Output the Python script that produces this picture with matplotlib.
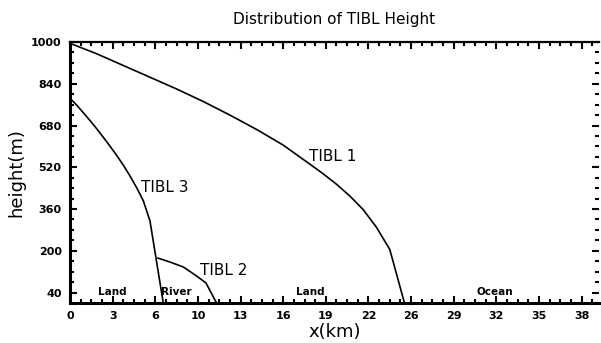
import numpy as np
import matplotlib
matplotlib.use("Agg")
import matplotlib.pyplot as plt
from matplotlib.ticker import MultipleLocator, FixedLocator

# TIBL curves (x in km, height in m)
tibl1_x = [0, 2, 4, 6, 8, 10, 12, 14, 16, 18, 19, 20, 21, 22, 23, 24, 25.1]
tibl1_h = [995, 955, 910, 865, 820, 772, 720, 665, 605, 532, 495, 455, 410, 358, 290, 205, 0]

tibl2_x = [6.6, 7.5, 8.5, 9.4, 10.2, 11.0]
tibl2_h = [172, 157, 138, 107, 77, 0]

tibl3_x = [0, 0.5, 1, 1.5, 2, 2.5, 3, 3.5, 4, 4.5, 5, 5.5, 6.0, 7.0]
tibl3_h = [785, 758, 729, 699, 668, 635, 601, 566, 528, 487, 442, 392, 315, 0]

curve_labels = ["TIBL 1", "TIBL 2", "TIBL 3"]
label_x = [19.7, 11.5, 7.1]
label_y = [560, 126, 444]

surface_names = ["Land", "River", "Land", "Ocean"]
surface_x = [3.2, 8.0, 18.0, 31.9]

xtick_vals = [i * 3.2 for i in range(13)]
xtick_text = ["0", "3", "6", "10", "13", "16", "19", "22", "26", "29", "32", "35", "38"]
ytick_vals = [40, 200, 360, 520, 680, 840, 1000]


def plot():
    fig = plt.figure(figsize=(6.01, 3.43), dpi=100)
    ax = fig.add_axes([70 / 601, 40 / 343, 529 / 601, 261 / 343])

    for xs, hs in [(tibl1_x, tibl1_h), (tibl2_x, tibl2_h), (tibl3_x, tibl3_h)]:
        ax.plot(xs, hs, color="black", lw=1.2)

    for t, x, y in zip(curve_labels, label_x, label_y):
        ax.text(x, y, t, fontsize=11, ha="center", va="center")

    for t, x in zip(surface_names, surface_x):
        ax.text(x, 42, t, fontsize=7.5, fontweight="bold", ha="center", va="center")

    ax.set_xlim(0, 39.7)
    ax.set_ylim(0, 1000)

    ax.set_xticks(xtick_vals)
    ax.set_xticklabels(xtick_text)
    ax.xaxis.set_minor_locator(MultipleLocator(0.8))
    ax.set_yticks(ytick_vals)
    ax.yaxis.set_minor_locator(FixedLocator(np.arange(0, 1001, 40)))

    ax.tick_params(which="both", direction="in", top=True, right=True, width=1.5)
    ax.tick_params(which="major", length=5, labelsize=8, pad=6)
    ax.tick_params(which="minor", length=3)
    for lab in ax.get_xticklabels() + ax.get_yticklabels():
        lab.set_fontweight("bold")

    ax.spines["left"].set_linewidth(2.2)
    ax.spines["bottom"].set_linewidth(2.2)
    ax.spines["top"].set_linewidth(1.6)
    ax.spines["right"].set_visible(False)

    ax.set_xlabel("x(km)", fontsize=13, labelpad=1)
    ax.set_ylabel("height(m)", fontsize=13, labelpad=4)
    ax.set_title("Distribution of TIBL Height", fontsize=11, pad=13)

    fig.savefig("out.png", dpi=100)


if __name__ == "__main__":
    plot()
